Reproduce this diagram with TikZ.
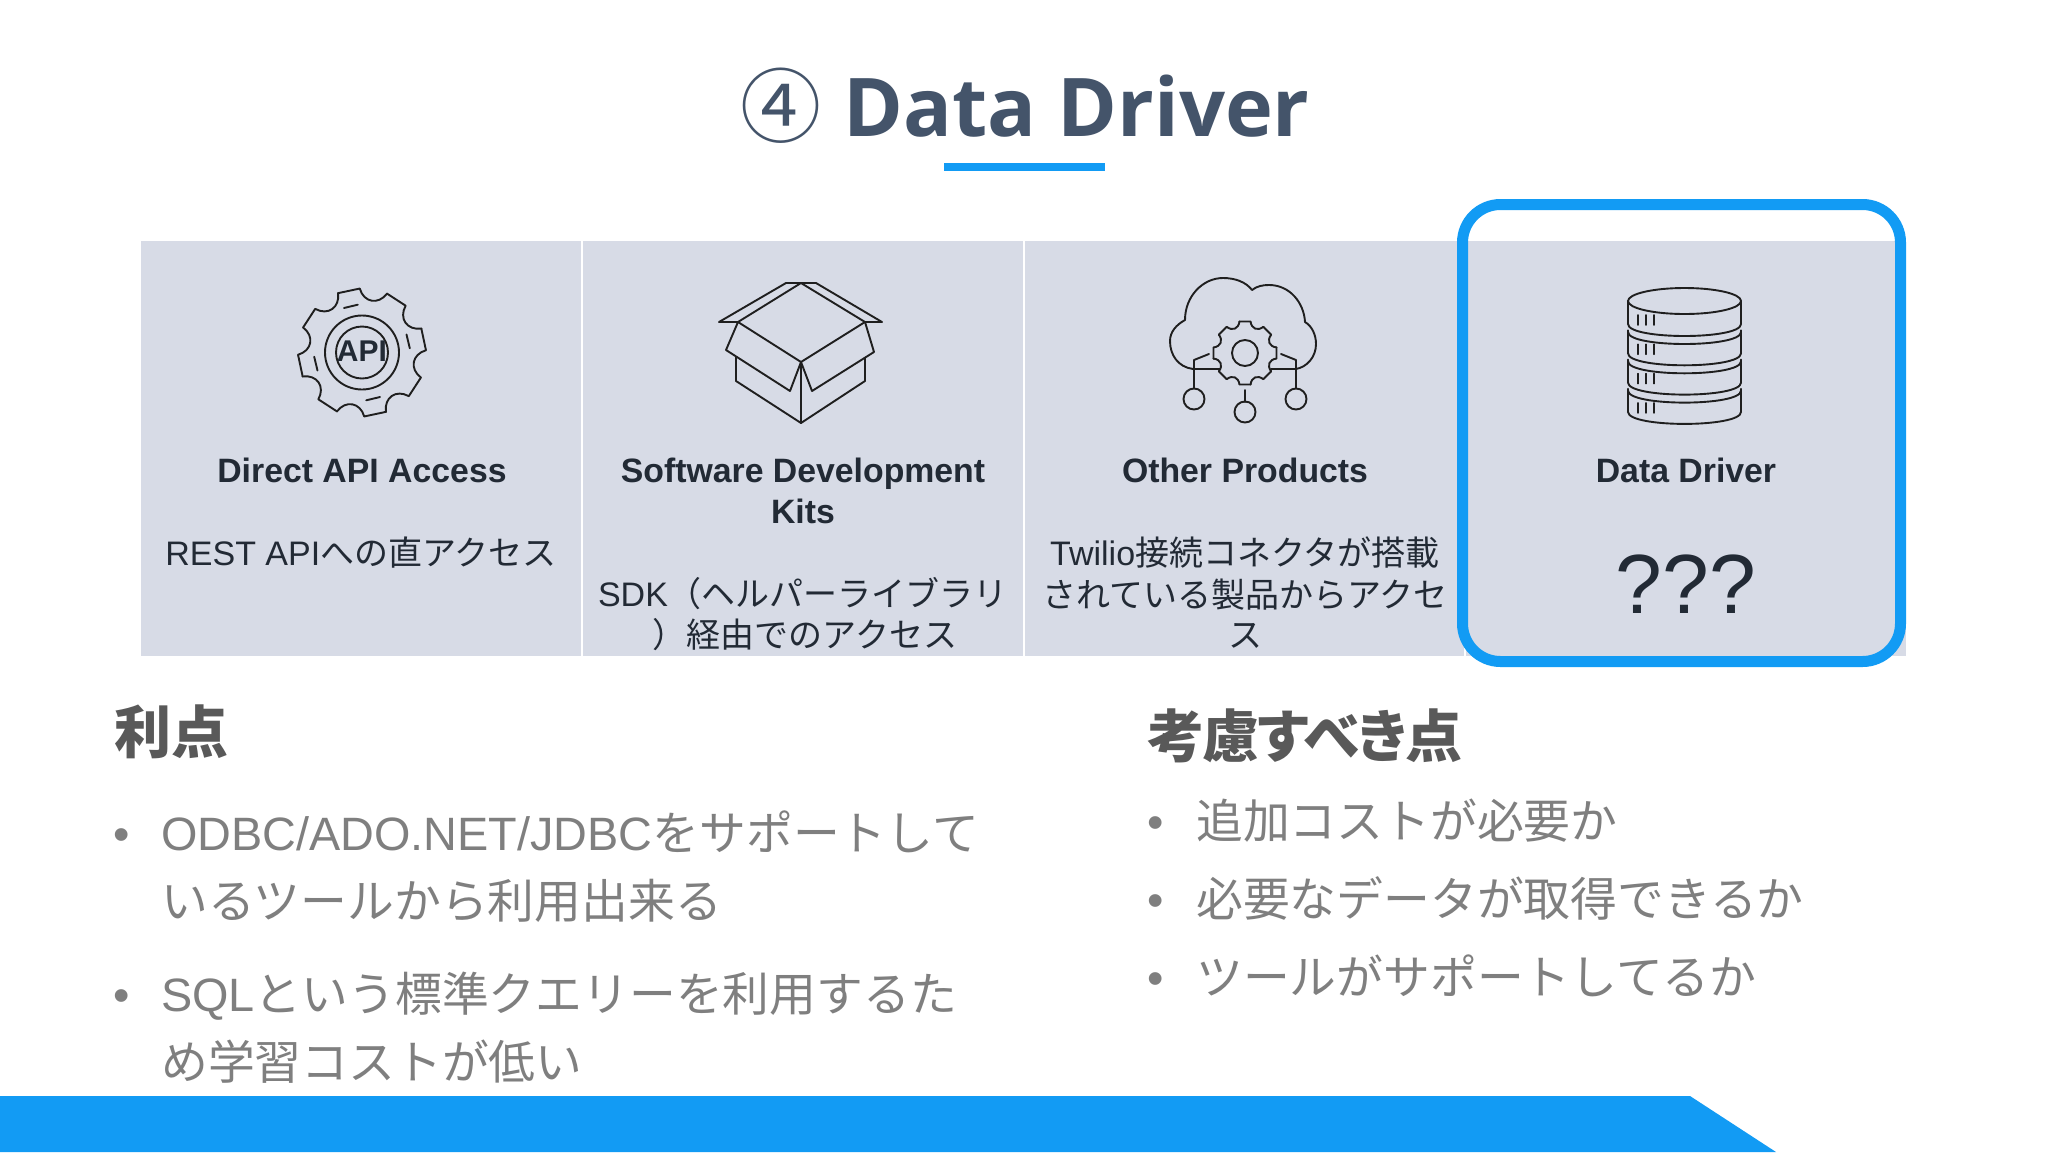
\documentclass[tikz,border=0pt]{standalone}
\usepackage{fontspec}
\setmainfont{Liberation Sans}
\newfontfamily\cjk{Noto Sans CJK JP}
\newfontfamily\cjkhead[RawFeature=+palt]{Noto Sans CJK JP}
\newfontfamily\titlefont{Open Sans}
\definecolor{barblue}{HTML}{129BF4}
\definecolor{panelgray}{HTML}{D7DBE6}
\definecolor{titleink}{HTML}{44546A}
\definecolor{panelink}{HTML}{222A35}
\definecolor{headink}{HTML}{595959}
\definecolor{pointink}{HTML}{7F7F7F}
\tikzset{
	titletext/.style={anchor=base,text=titleink,font=\fontsize{81}{90}\selectfont},
	cardhead/.style={anchor=base,text=panelink,font=\fontsize{33.8}{40}\selectfont\bfseries},
	cardbody/.style={anchor=base,text=panelink,font=\fontsize{34}{40}\selectfont},
	pointhead/.style={anchor=base west,text=headink,font=\fontsize{57}{66}\selectfont\cjkhead\bfseries},
	pointtext/.style={anchor=base west,text=pointink,font=\fontsize{46.8}{56}\selectfont},
	iconline/.style={draw=black!88,line width=1.9pt,line join=round,line cap=round},
}
\begin{document}
\begin{tikzpicture}[x=1pt,y=-1pt,inner sep=0pt]
	\useasboundingbox (0,0) rectangle (2048,1152);
	\fill[white] (0,0) rectangle (2048,1152);
	% title
	\node (title) at (1025,136) [titletext]{{\cjk ④} {\titlefont\bfseries Data Driver}};
	\fill[barblue] (944,163) rectangle (1105,171);
	% cards
	\fill[panelgray] (141,241) rectangle (1906,656);
	\draw[white,line width=1.5pt] (582,241)--(582,656);
	\draw[white,line width=1.5pt] (1024,241)--(1024,656);
	\draw[white,line width=1.5pt] (1465,241)--(1465,656);
	\draw[barblue,line width=11pt,rounded corners=38pt] (1462.5,204.5) rectangle (1900.5,661.5);
	% api gear
	\foreach \a in {33,78,...,348}{
		\draw[iconline,shift={(362,352.5)}] ({\a-10}:64)--({\a+10}:64)
			.. controls ({\a+14}:50) and ({\a+31}:50) .. ({\a+35}:64);
	}
	\foreach \a in {68,158,248,338}{
		\draw[iconline,shift={(362,352.5)}] (\a:48)--({\a+17}:48);
	}
	\draw[iconline] (362,352.5) circle (37);
	\draw[iconline] (362,352.5) circle (26);
	\node (apilabel) at (362,351) [text=panelink,font=\fontsize{30}{30}\selectfont\bfseries]{API};
	% box
	\draw[iconline] (801,283)--(738,322)--(801,362)--(865,322)--cycle;
	\draw[iconline] (738,322)--(719,322)--(786,283)--(816,283)--(882,322)--(865,322);
	\draw[iconline] (738,322)--(726,350)--(790,391)--(801,362)--(812,391)--(874,352)--(865,322);
	\draw[iconline] (736,357)--(736,381)--(801,423)--(865,381)--(865,358);
	\draw[iconline] (801,362)--(801,423);
	% cloud
	\draw[iconline] (1193,369) .. controls (1178,367) and (1170,355) .. (1170,341)
		.. controls (1170,332) and (1176,325) .. (1185,320)
		.. controls (1185,296) and (1203,278) .. (1223,278)
		.. controls (1235,278) and (1246,282) .. (1252,290)
		.. controls (1257,286) and (1263,285) .. (1269,285)
		.. controls (1290,285) and (1304,303) .. (1305,322)
		.. controls (1312,326) and (1316,335) .. (1316,344)
		.. controls (1316,357) and (1307,367) .. (1296,369);
	\foreach \a in {0,45,...,315}{
		\draw[iconline,shift={(1245,353)}] ({\a-10}:32)--({\a+10}:32)
			.. controls ({\a+15}:25) and ({\a+30}:25) .. ({\a+35}:32);
	}
	\draw[iconline] (1245,353) circle (13);
	\draw[iconline] (1193,369)--(1220,369);
	\draw[iconline] (1271,369)--(1296,369);
	\draw[iconline] (1209,354)--(1194,360)--(1194,388);
	\draw[iconline] (1281,354)--(1296,360)--(1296,388);
	\draw[iconline] (1245,390)--(1245,402);
	\draw[iconline] (1194,399) circle (10.5);
	\draw[iconline] (1296,399) circle (10.5);
	\draw[iconline] (1245,412) circle (10.5);
	% database
	\draw[iconline] (1684.5,301) ellipse [x radius=56.5,y radius=13];
	\foreach \k in {0,1,2,3}{
		\draw[iconline] (1628,{301+29.3*\k})--(1628,{324+29.3*\k})
			.. controls (1628,{340+29.3*\k}) and (1741,{340+29.3*\k}) .. (1741,{324+29.3*\k})
			--(1741,{301+29.3*\k});
		\foreach \x in {1638,1646,1654}{
			\draw[iconline,line width=1.6pt] (\x,{315+29.3*\k})--(\x,{325+29.3*\k});
		}
	}
	\foreach \k in {0,1,2}{
		\draw[iconline] (1628,{332+29.3*\k})
			.. controls (1628,{348+29.3*\k}) and (1741,{348+29.3*\k}) .. (1741,{332+29.3*\k});
	}
	% card texts
	\node (apihead) at (362,482) [cardhead]{Direct API Access};
	\node (sdkhead) at (803,482) [cardhead]{Software Development};
	\node (sdkheadb) at (803,523) [cardhead]{Kits};
	\node (otherhead) at (1245,482) [cardhead]{Other Products};
	\node (drvhead) at (1686,482) [cardhead]{Data Driver};
	\node (apibody) at (361,565) [cardbody]{REST API{\cjk への直アクセス}};
	\node (sdkbody) at (803,606) [cardbody]{SDK{\cjk （ヘルパーライブラリ}};
	\node (sdkbodyb) at (805,647) [cardbody]{\cjk ）経由でのアクセス};
	\node (otherbody) at (1245,565) [cardbody]{Twilio{\cjk 接続コネクタが搭載}};
	\node (otherbodyb) at (1245,607) [cardbody]{\cjk されている製品からアクセ};
	\node (otherbodyc) at (1245,647) [cardbody]{\cjk ス};
	\node (drvbody) at (1686,613) [anchor=base,text=panelink,font=\fontsize{84}{90}\selectfont]{???};
	% merits
	\node (merithead) at (114,753) [pointhead]{利点};
	\node (meritdota) at (113,850) [pointtext]{•};
	\node (meritaa) at (161,850) [pointtext]{ODBC/ADO.NET/JDBC{\cjk をサポートして}};
	\node (meritab) at (161,918) [pointtext]{\cjk いるツールから利用出来る};
	\node (meritdotb) at (113,1011) [pointtext]{•};
	\node (meritba) at (161,1011) [pointtext]{SQL{\cjk という標準クエリーを利用するた}};
	\node (meritbb) at (161,1079) [pointtext]{\cjk め学習コストが低い};
	% concerns
	\node (carehead) at (1147,757) [pointhead]{\addfontfeature{LetterSpace=-3}考慮すべき点};
	\node (caredota) at (1147,838) [pointtext]{•};
	\node (carea) at (1196,838) [pointtext]{\cjk 追加コストが必要か};
	\node (caredotb) at (1147,916) [pointtext]{•};
	\node (careb) at (1196,916) [pointtext]{\cjk 必要なデータが取得できるか};
	\node (caredotc) at (1147,994) [pointtext]{•};
	\node (carec) at (1196,994) [pointtext]{\cjk ツールがサポートしてるか};
	% bottom bar
	\fill[barblue] (0,1096)--(1690,1096)--(1776,1152)--(0,1152)--cycle;
\end{tikzpicture}
\end{document}
